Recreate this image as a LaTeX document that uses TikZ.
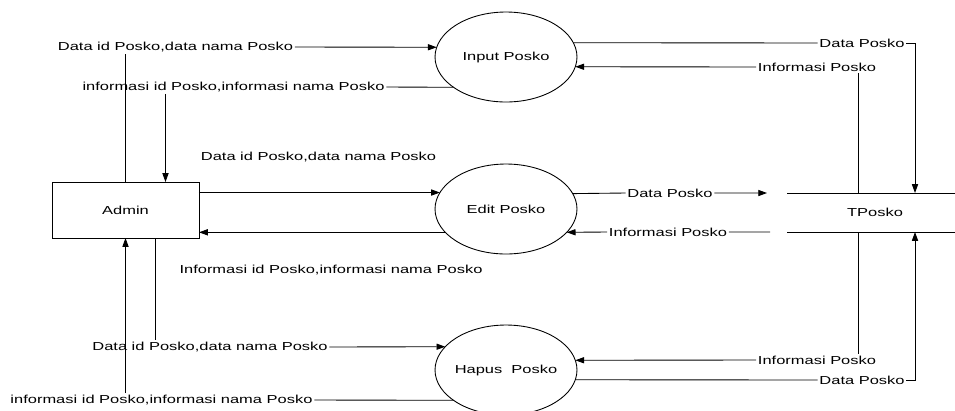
\documentclass[tikz,border=0pt]{standalone}
\usepackage{fontspec}
\newfontfamily\flowfont[FakeStretch=1.42]{Liberation Sans}
\usetikzlibrary{shapes.geometric,arrows.meta}

\tikzset{
    proc/.style={draw, ellipse, minimum width=2.84cm, minimum height=1.8cm, inner xsep=-1pt, outer sep=0pt, font=\flowfont\fontsize{6.6}{8}\selectfont},
    entity/.style={draw, rectangle, minimum width=2.94cm, minimum height=1.12cm, outer sep=0pt, font=\flowfont\fontsize{6.6}{8}\selectfont},
    store/.style={rectangle, minimum width=3.52cm, minimum height=0.78cm, outer sep=0pt, font=\flowfont\fontsize{6.6}{8}\selectfont},
    lbl/.style={inner sep=0.8pt, font=\flowfont\fontsize{6.6}{8}\selectfont}
}

\begin{document}
\begin{tikzpicture}[x=0.02cm, y=-0.02cm, line width=0.5pt, >={Triangle[length=5pt,width=3.5pt]}]
    \useasboundingbox (0,0) rectangle (955,410);

    %Place process nodes
    \node[proc] (input) at (506,57) {Input Posko};
    \node[proc] (edit) at (506,209) {Edit Posko};
    \node[proc] (hapus) at (506,370) {Hapus~~Posko};

    %Place Admin node
    \node[entity] (admin) at (125.5,210) {Admin};

    %Place TPosko node
    \node[store] (tposko) at (875,212.5) {TPosko};
    \draw (tposko.north west) -- (tposko.north east);
    \draw (tposko.south west) -- (tposko.south east);

    %Place flow labels on the Admin side
    \node[lbl] (d-input) at (175.5,47) {Data id Posko,data nama Posko};
    \node[lbl] (i-input) at (233.5,87) {informasi id Posko,informasi nama Posko};
    \node[lbl] (d-edit) at (318.5,157) {Data id Posko,data nama Posko};
    \node[lbl] (i-edit) at (331,270) {Informasi id Posko,informasi nama Posko};
    \node[lbl] (d-hapus) at (210,347) {Data id Posko,data nama Posko};
    \node[lbl] (i-hapus) at (161.5,400) {informasi id Posko,informasi nama Posko};

    %Place flow labels on the TPosko side
    \node[lbl] (dp-input) at (862,43) {Data Posko};
    \node[lbl] (ip-input) at (817,67) {Informasi Posko};
    \node[lbl] (dp-edit) at (670,193) {Data Posko};
    \node[lbl] (ip-edit) at (668,232) {Informasi Posko};
    \node[lbl] (ip-hapus) at (817,360) {Informasi Posko};
    \node[lbl] (dp-hapus) at (862,380) {Data Posko};

    %Connector ends
    \coordinate (admin-n2) at ([xshift=0.8cm]admin.north);
    \coordinate (admin-s2) at ([xshift=0.6cm]admin.south);
    \coordinate (tp-n1) at ([xshift=-0.34cm]tposko.north);
    \coordinate (tp-n2) at ([xshift=0.8cm]tposko.north);
    \coordinate (tp-s1) at ([xshift=-0.34cm]tposko.south);
    \coordinate (tp-s2) at ([xshift=0.8cm]tposko.south);
    \coordinate (tp-in) at ([xshift=-0.4cm]tposko.north west);
    \coordinate (tp-out) at ([xshift=-0.34cm]tposko.south west);

    %Draw arrows Admin - Input Posko
    \draw (admin.north) -- (admin.north |- d-input.south);
    \draw[->] (d-input.east) -- (input.172);
    \draw (input.210) -- (i-input.east);
    \draw[->] (admin-n2 |- i-input.south) -- (admin-n2);

    %Draw arrows Admin - Edit Posko
    \draw[->] (admin.east |- edit.166) -- (edit.166);
    \draw[->] (edit.201) -- (admin.east |- edit.201);

    %Draw arrows Admin - Hapus Posko
    \draw (admin-s2) -- (admin-s2 |- d-hapus.north);
    \draw[->] (d-hapus.east) -- (hapus.159);
    \draw (hapus.210) -- (i-hapus.east);
    \draw[->] (admin.south |- i-hapus.north) -- (admin.south);

    %Draw arrows Input Posko - TPosko
    \draw (input.12) -- (dp-input.west);
    \draw[->] (dp-input.east) -| (tp-n2);
    \draw (tp-n1) -- (tp-n1 |- ip-input.south);
    \draw[->] (ip-input.west) -- (input.-8);

    %Draw arrows Edit Posko - TPosko
    \draw (edit.13) -- (dp-edit.west);
    \draw[->] (dp-edit.east) -- (tp-in);
    \draw (tp-out) -- (ip-edit.east);
    \draw[->] (ip-edit.west) -- (edit.-21);

    %Draw arrows Hapus Posko - TPosko
    \draw (tp-s1) -- (tp-s1 |- ip-hapus.north);
    \draw[->] (ip-hapus.west) -- (hapus.8);
    \draw (hapus.-8) -- (dp-hapus.west);
    \draw[->] (dp-hapus.east) -| (tp-s2);
\end{tikzpicture}
\end{document}
